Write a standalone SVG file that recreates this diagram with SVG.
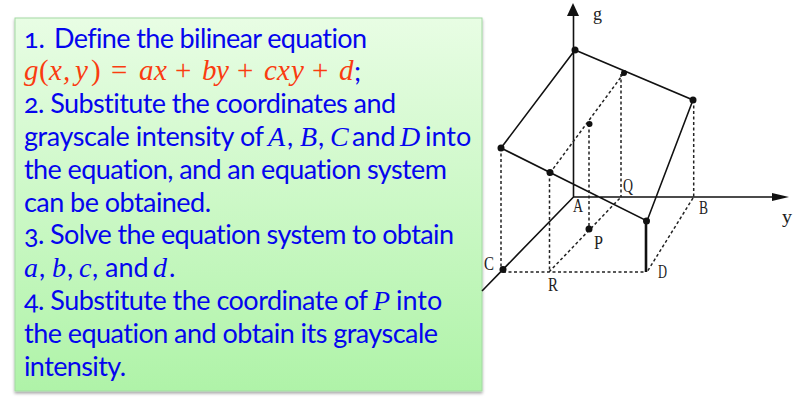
<svg xmlns="http://www.w3.org/2000/svg" width="811" height="409" viewBox="0 0 811 409">
<style>
.t{font-family:"Lato","Open Sans",sans-serif;font-size:27px;fill:#0505ee;font-variant-numeric:oldstyle-nums;font-variant-ligatures:none}
.m{font-family:"Liberation Serif",serif;font-style:italic;font-size:28px}
.r{fill:#fa3c10;font-family:"Liberation Serif",serif;font-style:italic;font-size:29px}
.u{font-style:normal}
.s{fill:none;stroke:#111;stroke-width:1.6}
.d{fill:none;stroke:#222;stroke-width:1.5;stroke-dasharray:3 2.500}
.l{font-family:"Liberation Serif",serif;font-size:18px;fill:#222}
.p{fill:#111}
</style>
<defs>
<linearGradient id="bg" x1="0" y1="0" x2="0" y2="1"><stop offset="0" stop-color="#e8fde4"/><stop offset="1" stop-color="#aff3a8"/></linearGradient>
<filter id="sh" x="-5%" y="-5%" width="110%" height="110%"><feDropShadow dx="0" dy="2" stdDeviation="1.5" flood-color="#000" flood-opacity=".35"/></filter>
</defs>
<g id="textbox">
<rect x="15" y="18" width="467" height="373" fill="url(#bg)" stroke="#a3d9a3" filter="url(#sh)"/>
<text class="t" y="48"><tspan x="24">1.</tspan><tspan x="54" textLength="313">Define the bilinear equation</tspan></text>
<text class="t r" y="80"><tspan x="24">g</tspan><tspan class="u" x="39">(</tspan><tspan x="49">x</tspan><tspan x="63">,</tspan><tspan x="75">y</tspan><tspan class="u" x="91">)</tspan><tspan class="u" x="111">=</tspan><tspan x="139">a</tspan><tspan x="154">x</tspan><tspan class="u" x="175">+</tspan><tspan x="202">b</tspan><tspan x="216">y</tspan><tspan class="u" x="237">+</tspan><tspan x="264">c</tspan><tspan x="277">x</tspan><tspan x="291">y</tspan><tspan class="u" x="312">+</tspan><tspan x="339">d</tspan></text>
<text class="t" x="354" y="81">;</text>
<text class="t" x="24" y="113" textLength="372">2. Substitute the coordinates and</text>
<text class="t" x="24" y="146" textLength="240">grayscale intensity of</text>
<text class="t m" x="268" y="146">A</text><text class="t" x="287" y="146">,</text>
<text class="t m" x="300" y="146">B</text><text class="t" x="318" y="146">,</text>
<text class="t m" x="330" y="146">C</text><text class="t" x="352" y="146">and</text>
<text class="t m" x="400" y="146">D</text><text class="t" x="425" y="146">into</text>
<text class="t" x="24" y="179" textLength="423">the equation, and an equation system</text>
<text class="t" x="24" y="212" textLength="187">can be obtained.</text>
<text class="t" x="24" y="244" textLength="430">3. Solve the equation system to obtain</text>
<text class="t m" x="24" y="277">a</text><text class="t" x="39" y="277">,</text>
<text class="t m" x="52" y="277">b</text><text class="t" x="67" y="277">,</text>
<text class="t m" x="79" y="277">c</text><text class="t" x="92" y="277">,</text>
<text class="t" x="105" y="277">and</text>
<text class="t m" x="153" y="277">d</text><text class="t" x="169" y="277">.</text>
<text class="t" x="24" y="310" textLength="344">4. Substitute the coordinate of</text>
<text class="t m" x="373" y="310">P</text><text class="t" x="396" y="310">into</text>
<text class="t" x="24" y="343" textLength="414">the equation and obtain its grayscale</text>
<text class="t" x="24" y="376" textLength="102">intensity.</text>
</g>
<g id="connectors">
<path class="s" d="M573.5 14V197M573.5 197H776M573.5 197L482 291M501 148L575 50L693 100L647 221L501 148"/>
<path d="M646 221V272" fill="none" stroke="#111" stroke-width="2.600"/>
<path class="d" d="M501 148V270M549.5 173V272M589 124V229M621 74V197M693.700 100V197M503 272H645M549 272L621 197M550 173L624 73M693 198L647 272"/>
<path class="p" d="M573 3L567 16H579Z"/>
<path class="p" d="M772 193V201L789 197Z"/>
</g>
<g id="nodes">
<g id="n-top"><circle class="p" cx="575" cy="50" r="3.500"/></g>
<g id="n-right"><circle class="p" cx="693" cy="100" r="3.500"/></g>
<g id="n-left"><circle class="p" cx="501" cy="148" r="3.500"/></g>
<g id="n-mid"><circle class="p" cx="550" cy="172.500" r="3.500"/></g>
<g id="n-low"><circle class="p" cx="646.500" cy="221" r="3.500"/></g>
<g id="n-s1"><circle class="p" cx="624" cy="73" r="3"/></g>
<g id="n-s2"><circle class="p" cx="589.500" cy="124" r="3"/></g>
<g id="n-P"><circle class="p" cx="589" cy="229" r="3.500"/><text class="l" x="594" y="249" textLength="9" lengthAdjust="spacingAndGlyphs">P</text></g>
<g id="n-C"><circle class="p" cx="503" cy="269.500" r="3.500"/><text class="l" x="484" y="270" textLength="10" lengthAdjust="spacingAndGlyphs">C</text></g>
<g id="n-g"><text class="l" x="593" y="20" textLength="9" lengthAdjust="spacingAndGlyphs">g</text></g>
<g id="n-y"><text class="l" x="782" y="223" textLength="10" lengthAdjust="spacingAndGlyphs">y</text></g>
<g id="n-A"><text class="l" x="573" y="212" textLength="10" lengthAdjust="spacingAndGlyphs">A</text></g>
<g id="n-B"><text class="l" x="699" y="214" textLength="9" lengthAdjust="spacingAndGlyphs">B</text></g>
<g id="n-Q"><text class="l" x="623" y="192" textLength="10" lengthAdjust="spacingAndGlyphs">Q</text></g>
<g id="n-D"><text class="l" x="658" y="278" textLength="9" lengthAdjust="spacingAndGlyphs">D</text></g>
<g id="n-R"><text class="l" x="548" y="291" textLength="10" lengthAdjust="spacingAndGlyphs">R</text></g>
</g>
</svg>
